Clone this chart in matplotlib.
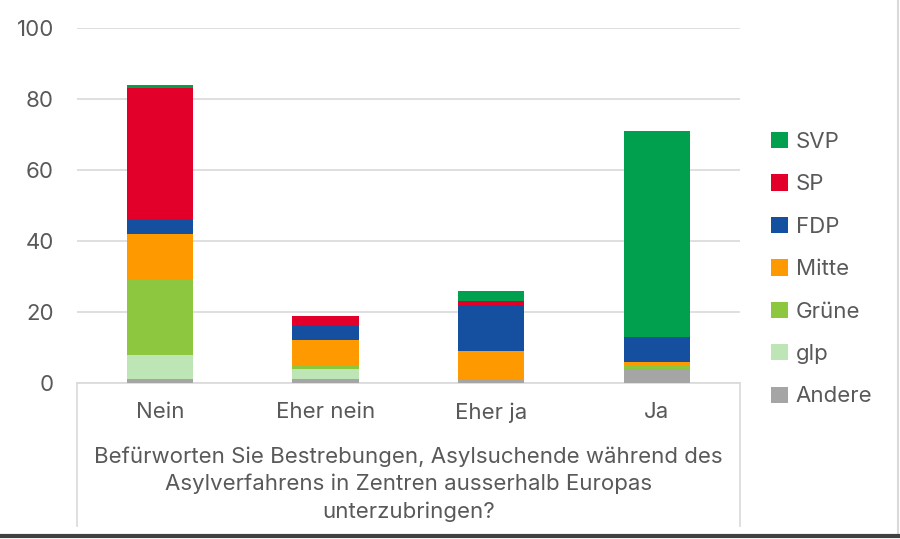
import numpy as np
import matplotlib
matplotlib.use("Agg")
import matplotlib.pyplot as plt
from matplotlib.patches import Patch
from matplotlib.lines import Line2D

plt.rcParams['font.family'] = ['Inter', 'DejaVu Sans']

# Data
categories = ['Nein', 'Eher nein', 'Eher ja', 'Ja']
parties = ['Andere', 'glp', 'Grüne', 'Mitte', 'FDP', 'SP', 'SVP']
andere = [1, 1, 1, 4]
glp = [7, 3, 0, 0]
gruene = [21, 1, 0, 1]
mitte = [13, 7, 8, 1]
fdp = [4, 4, 13, 7]
sp = [37, 3, 1, 0]
svp = [1, 0, 3, 58]
yticks = [0, 20, 40, 60, 80, 100]
title = ("Befürworten Sie Bestrebungen, Asylsuchende während des\n"
         "Asylverfahrens in Zentren ausserhalb Europas\n"
         "unterzubringen?")

series = [andere, glp, gruene, mitte, fdp, sp, svp]
colors = ['#A5A5A5', '#BDE5B5', '#8DC63F', '#FF9900', '#1550A0', '#E2002B', '#00A04E']

text_col = '#595959'
grid_col = '#D9D9D9'
fs = 16

fig = plt.figure(figsize=(9, 5.39), dpi=100)
ax = fig.add_axes([0.0856, 0.2894, 0.7364, 0.6586])

x = np.arange(len(categories))
bottom = np.zeros(len(categories))
for name, vals, c in zip(parties, series, colors):
    ax.bar(x, vals, width=0.4, bottom=bottom, color=c, label=name, zorder=3)
    bottom += np.array(vals)

ax.set_xlim(-0.5, len(categories) - 0.5)
ax.set_ylim(0, 100)
ax.set_yticks(yticks)
ax.yaxis.grid(True, color=grid_col, linewidth=1.2, zorder=0)
for s in ['top', 'right', 'left']:
    ax.spines[s].set_visible(False)
ax.spines['bottom'].set_color(grid_col)
ax.spines['bottom'].set_linewidth(1.2)
ax.tick_params(axis='y', length=0, pad=16.5, labelsize=fs, labelcolor=text_col)
ax.tick_params(axis='x', length=0, pad=14, labelsize=fs, labelcolor=text_col)
ax.set_xticks(x)
ax.set_xticklabels(categories)

# box lines around category axis area
for xa in [0, 1]:
    ax.add_line(Line2D([xa, xa], [0, -0.403], transform=ax.transAxes,
                       color=grid_col, linewidth=1.2, clip_on=False))

ax.text(0.5, -0.178, title, transform=ax.transAxes, ha='center', va='top',
        fontsize=fs, color=text_col, linespacing=1.43)

handles = [Patch(facecolor=c, edgecolor='none') for c in colors[::-1]]
fig.legend(handles, parties[::-1], loc='upper left',
           bbox_to_anchor=(0.847, 0.772), frameon=False, fontsize=fs,
           labelcolor=text_col, handlelength=0.75, handleheight=0.75,
           handletextpad=0.35, labelspacing=1.01, borderaxespad=0)

# outer frame
fig.add_artist(Line2D([0.998, 0.998], [0.01, 1.0], transform=fig.transFigure,
                      color='#D9D9D9', linewidth=1.5))
fig.add_artist(Line2D([0, 1], [0.006, 0.006], transform=fig.transFigure,
                      color='#404040', linewidth=3))

fig.savefig('out.png', dpi=100)
